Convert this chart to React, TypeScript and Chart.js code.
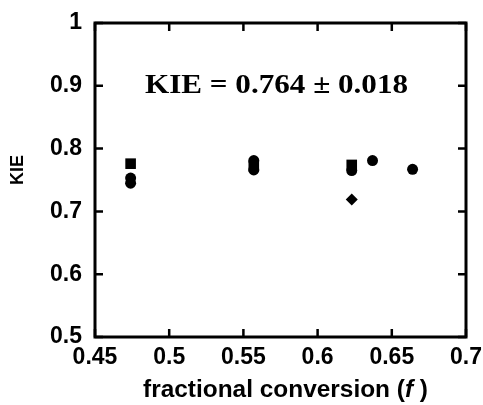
import React, { useEffect, useRef } from "react";
import { Chart, registerables } from "chart.js";

Chart.register(...registerables);

// ---- data ----
const squareX = [0.474, 0.557, 0.623];
const squareY = [0.776, 0.772, 0.774];
const circleX = [0.474, 0.474, 0.557, 0.557, 0.623, 0.637, 0.664];
const circleY = [0.753, 0.745, 0.781, 0.766, 0.765, 0.781, 0.767];
const diamondX = [0.623];
const diamondY = [0.719];

const xTickValues = [0.45, 0.5, 0.55, 0.6, 0.65, 0.7];
const xTickLabels = ["0.45", "0.5", "0.55", "0.6", "0.65", "0.7"];
const yTickValues = [0.5, 0.6, 0.7, 0.8, 0.9, 1];
const yTickLabels = ["0.5", "0.6", "0.7", "0.8", "0.9", "1"];

const xTitle = "fractional conversion (";
const xTitleItalic = "f";
const xTitleEnd = ")";
const yTitle = "KIE";
const annotation = "KIE = 0.764 \u00b1 0.018";

const SANS = '"Liberation Sans", Arial, sans-serif';
const SERIF = '"Liberation Serif", "Times New Roman", serif';

function pts(xs: number[], ys: number[]) {
  return xs.map((x, i) => ({ x, y: ys[i] }));
}

const framePlugin = {
  id: "frameAndText",
  afterDraw(chart: any) {
    const ctx = chart.ctx as CanvasRenderingContext2D;
    const { left, right, top, bottom } = chart.chartArea;
    const xs = chart.scales.x;
    const ys = chart.scales.y;
    ctx.save();
    ctx.strokeStyle = "#000";
    // frame
    ctx.lineWidth = 3;
    ctx.strokeRect(left, top, right - left, bottom - top);
    // inward ticks
    ctx.lineWidth = 2.5;
    const tl = 8;
    ctx.beginPath();
    xTickValues.forEach((v) => {
      const px = xs.getPixelForValue(v);
      ctx.moveTo(px, bottom);
      ctx.lineTo(px, bottom - tl);
      ctx.moveTo(px, top);
      ctx.lineTo(px, top + tl);
    });
    yTickValues.forEach((v) => {
      const py = ys.getPixelForValue(v);
      ctx.moveTo(left, py);
      ctx.lineTo(left + tl, py);
      ctx.moveTo(right, py);
      ctx.lineTo(right - tl, py);
    });
    ctx.stroke();

    ctx.fillStyle = "#000";
    ctx.textBaseline = "middle";
    // x title (bold, italic f)
    const f1 = `bold 23px ${SANS}`;
    const f2 = `italic bold 23px ${SANS}`;
    ctx.font = f1;
    const w1 = ctx.measureText(xTitle).width;
    const w3 = ctx.measureText(xTitleEnd).width;
    ctx.font = f2;
    const w2 = ctx.measureText(xTitleItalic + " ").width;
    const total = w1 + w2 + w3;
    const targetW = 285;
    const sx = targetW / total;
    const cx = 285.5;
    const cy = 391;
    ctx.save();
    ctx.translate(cx - targetW / 2, cy);
    ctx.scale(sx, 1);
    ctx.textAlign = "left";
    ctx.font = f1;
    ctx.fillText(xTitle, 0, 0);
    ctx.font = f2;
    ctx.fillText(xTitleItalic, w1, 0);
    ctx.font = f1;
    ctx.fillText(xTitleEnd, w1 + w2, 0);
    ctx.restore();

    // y title
    ctx.save();
    ctx.translate(18, 170);
    ctx.rotate(-Math.PI / 2);
    ctx.textAlign = "center";
    ctx.font = `bold 18px ${SANS}`;
    ctx.fillText(yTitle, 0, 0);
    ctx.restore();

    // annotation
    ctx.save();
    ctx.font = `bold 28px ${SERIF}`;
    const wa = ctx.measureText(annotation).width;
    const targetA = 263;
    ctx.translate(276.5, 86);
    ctx.scale(targetA / wa, 1);
    ctx.textAlign = "center";
    ctx.fillText(annotation, 0, 0);
    ctx.restore();

    ctx.restore();
  },
};

export default function App() {
  const ref = useRef<HTMLCanvasElement | null>(null);
  useEffect(() => {
    if (!ref.current) return;
    const chart = new Chart(ref.current, {
      type: "scatter",
      data: {
        datasets: [
          {
            label: "squares",
            data: pts(squareX, squareY),
            pointStyle: "rect",
            pointRadius: 7.5,
            backgroundColor: "#000",
            borderWidth: 0,
          },
          {
            label: "circles",
            data: pts(circleX, circleY),
            pointStyle: "circle",
            pointRadius: 5.5,
            backgroundColor: "#000",
            borderWidth: 0,
          },
          {
            label: "diamonds",
            data: pts(diamondX, diamondY),
            pointStyle: "rectRot",
            pointRadius: 6,
            backgroundColor: "#000",
            borderWidth: 0,
          },
        ],
      },
      options: {
        animation: false,
        responsive: true,
        maintainAspectRatio: false,
        layout: { autoPadding: false, padding: { left: 0, right: 17, top: 23, bottom: 0 } },
        plugins: {
          legend: { display: false },
          tooltip: { enabled: false },
        },
        scales: {
          x: {
            type: "linear",
            min: 0.45,
            max: 0.7,
            grid: { display: false, drawTicks: false },
            border: { display: false },
            afterBuildTicks: (s: any) => {
              s.ticks = xTickValues.map((v) => ({ value: v }));
            },
            afterFit: (s: any) => {
              s.height = 68;
              s.paddingLeft = 0;
              s.paddingRight = 0;
            },
            ticks: {
              padding: 7,
              color: "#000",
              font: { family: SANS, size: 23, weight: "bold" },
              maxRotation: 0,
              autoSkip: false,
              callback: (v: any) => {
                const i = xTickValues.findIndex((t) => Math.abs(t - Number(v)) < 1e-9);
                return i >= 0 ? xTickLabels[i] : "";
              },
            },
          },
          y: {
            type: "linear",
            min: 0.5,
            max: 1,
            grid: { display: false, drawTicks: false },
            border: { display: false },
            afterBuildTicks: (s: any) => {
              s.ticks = yTickValues.map((v) => ({ value: v }));
            },
            afterFit: (s: any) => {
              s.width = 95;
              s.paddingTop = 0;
              s.paddingBottom = 0;
            },
            ticks: {
              padding: 13,
              color: "#000",
              font: { family: SANS, size: 23, weight: "bold" },
              autoSkip: false,
              callback: (v: any) => {
                const i = yTickValues.findIndex((t) => Math.abs(t - Number(v)) < 1e-9);
                return i >= 0 ? yTickLabels[i] : "";
              },
            },
          },
        },
      },
      plugins: [framePlugin],
    } as any);
    return () => chart.destroy();
  }, []);
  return (
    <div style={{ position: "fixed", left: 0, top: 0, width: 483, height: 405, background: "#fff" }}>
      <canvas ref={ref} />
    </div>
  );
}
